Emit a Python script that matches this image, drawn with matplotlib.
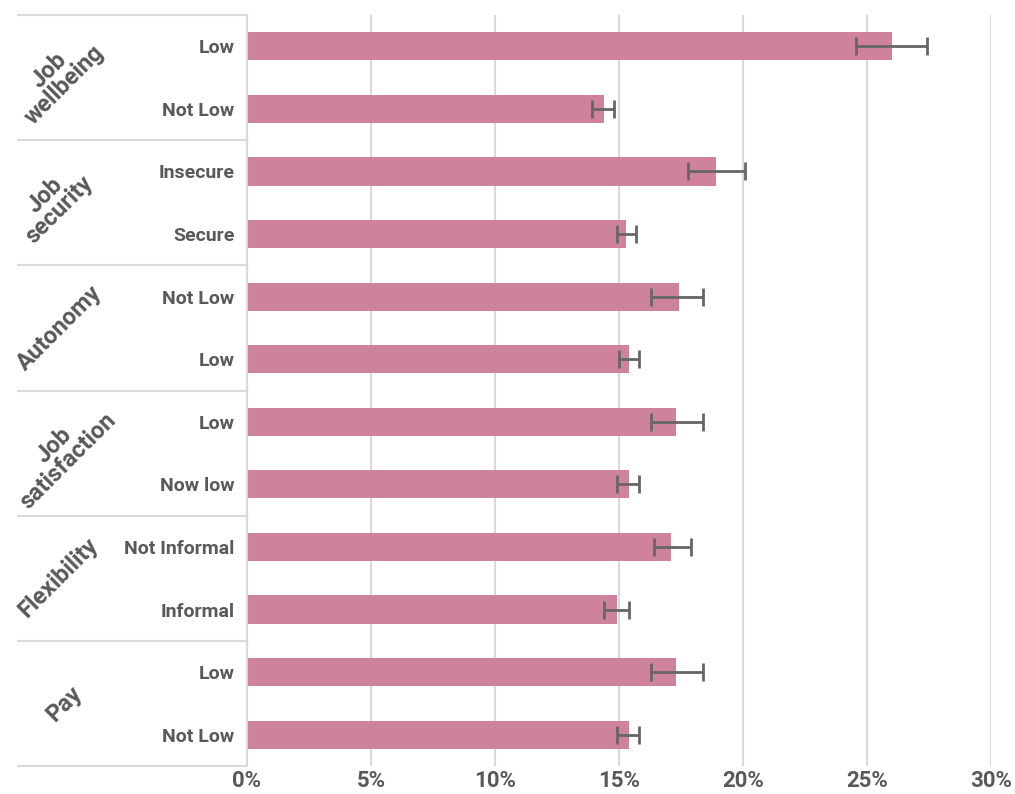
import matplotlib.pyplot as plt
import numpy as np

# data, top to bottom
groups = ['Job\nwellbeing', 'Job\nsecurity', 'Autonomy', 'Job\nsatisfaction', 'Flexibility', 'Pay']
labels = ['Low', 'Not Low', 'Insecure', 'Secure', 'Not Low', 'Low',
          'Low', 'Now low', 'Not Informal', 'Informal', 'Low', 'Not Low']
values = [26.0, 14.4, 18.9, 15.3, 17.4, 15.4, 17.3, 15.4, 17.1, 14.9, 17.3, 15.4]
err_low = [24.55, 13.9, 17.8, 14.9, 16.3, 15.0, 16.3, 14.9, 16.4, 14.4, 16.3, 14.9]
err_high = [27.4, 14.8, 20.1, 15.7, 18.4, 15.8, 18.4, 15.8, 17.9, 15.4, 18.4, 15.8]
xticks = [0, 5, 10, 15, 20, 25, 30]

plt.rcParams['font.family'] = ['Roboto', 'DejaVu Sans']
text_col = '#595959'
bar_col = '#CE829C'
line_col = '#D9D9D9'

fig = plt.figure(figsize=(10.15, 7.94), dpi=100)
ax = fig.add_axes([247 / 1015, 1 - 766 / 794, 744 / 1015, 751 / 794])

n = len(values)
y = np.arange(n)
vals = np.array(values)
xerr = np.array([vals - np.array(err_low), np.array(err_high) - vals])

ax.barh(y, vals, height=0.45, color=bar_col, zorder=2)
ax.errorbar(vals, y, xerr=xerr, fmt='none', ecolor='#666666', elinewidth=2,
            capsize=6.5, capthick=2, zorder=3)

ax.set_ylim(n - 0.5, -0.5)
ax.set_xlim(0, 30)
ax.set_xticks(xticks)
ax.set_xticklabels([f'{t}%' for t in xticks], fontsize=16, fontweight='bold', color=text_col)
ax.set_yticks(y)
ax.set_yticklabels(labels, fontsize=14, fontweight='bold', color=text_col)
ax.tick_params(axis='both', length=0)
ax.tick_params(axis='y', pad=9)
ax.tick_params(axis='x', pad=3)

for s in ['top', 'right', 'bottom']:
    ax.spines[s].set_visible(False)
ax.spines['left'].set_color(line_col)
ax.spines['left'].set_linewidth(1.5)

ax.xaxis.grid(True, color=line_col, linewidth=1.5, zorder=0)
ax.set_axisbelow(True)

# group separators and labels
trans = ax.get_yaxis_transform()
x0 = (18 - 247) / 744
for k in range(len(groups) + 1):
    yy = 2 * k - 0.5
    ax.plot([x0, 0], [yy, yy], transform=trans, color=line_col, linewidth=1.5,
            clip_on=False, zorder=1)

gx = [-0.256, -0.262, -0.252, -0.25, -0.253, -0.245]
for k, g in enumerate(groups):
    ax.text(gx[k], 2 * k + 0.5, g, transform=trans, rotation=45, ha='center', va='center',
            multialignment='center', fontsize=17, fontweight='bold', color=text_col,
            linespacing=0.9)

fig.savefig('out.png', dpi=100)
